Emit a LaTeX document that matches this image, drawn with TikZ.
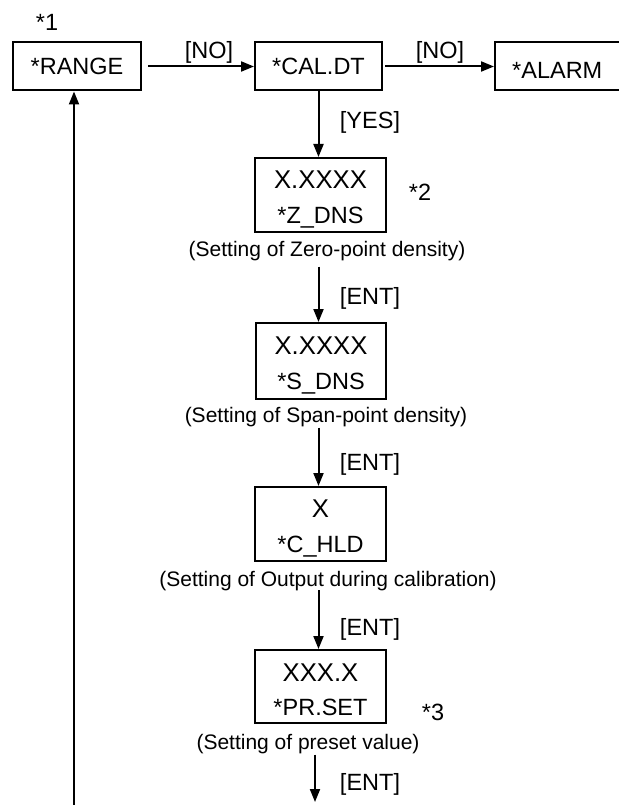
\documentclass[tikz,border=0pt]{standalone}
\usepackage{fontspec}
\setmainfont{Liberation Sans}
\usetikzlibrary{arrows.meta}

\tikzset{
    menu/.style={draw, line width=2pt, inner sep=0pt, minimum width=128pt, minimum height=48pt,
        font=\fontsize{23.5}{28}\selectfont, text height=16.8pt, text depth=0pt},
    setbox/.style={draw, line width=2pt, inner sep=0pt, minimum width=131pt, minimum height=74pt},
    valtxt/.style={inner sep=0pt, font=\fontsize{25.7}{30}\selectfont, text height=18.4pt, text depth=0pt},
    keytxt/.style={inner sep=0pt, font=\fontsize{23.5}{28}\selectfont, text height=16.8pt, text depth=0pt},
    note/.style={inner sep=0pt, font=\fontsize{21}{25}\selectfont, text height=15pt, text depth=0pt},
    flow/.style={line width=2pt, -{Triangle[length=13pt, width=10pt]}}
}

\begin{document}
\begin{tikzpicture}[x=1pt, y=-1pt]
    \useasboundingbox (0,0) rectangle (618,805);

    % Top row
    \node[menu] (range) at (77,66.5) {*RANGE};
    \node[menu, minimum width=127pt] (caldt) at (318.5,66.5) {*CAL.DT};
    \node[menu, minimum width=144pt] (alarm) at (567,66.5) {};
    \node[keytxt, anchor=west] (alarmtxt) at (512,70) {*ALARM};
    \node[keytxt] (n1) at (47,22) {*1};

    \draw[flow] ([xshift=6pt]range.east) -- (caldt.west);
    \node[keytxt] (no1) at (209,50) {[NO]};
    \draw[flow] ([xshift=2pt]caldt.east) -- (alarm.west);
    \node[keytxt] (no2) at (440,50) {[NO]};

    % Zero-point density
    \node[setbox] (zdns) at (320.5,195) {};
    \node[valtxt] (zval) at (320.5,179) {X.XXXX};
    \node[keytxt] (zkey) at (320.5,215) {*Z\_DNS};
    \node[keytxt] (n2) at (420,192) {*2};
    \node[note] (zcap) at (327,249) {(Setting of Zero-point density)};
    \draw[flow] (caldt.south) -- (caldt.south |- zdns.north);
    \node[keytxt] (yes) at (370,120) {[YES]};

    % Span-point density
    \node[setbox, minimum width=130pt, minimum height=76pt] (sdns) at (321,361) {};
    \node[valtxt] (sval) at (321,345) {X.XXXX};
    \node[keytxt] (skey) at (321,381) {*S\_DNS};
    \node[note] (scap) at (326,415) {(Setting of Span-point density)};
    \draw[flow] ([yshift=-10pt]zcap.south -| caldt.south) -- (caldt.south |- sdns.north);
    \node[keytxt] (ent1) at (370,296) {[ENT]};

    % Output during calibration
    \node[setbox] (chld) at (320.5,524) {};
    \node[valtxt] (cval) at (320.5,508.5) {X};
    \node[keytxt] (ckey) at (320.5,544) {*C\_HLD};
    \node[note] (ccap) at (328,578.5) {(Setting of Output during calibration)};
    \draw[flow] ([yshift=-5pt]scap.south -| caldt.south) -- (caldt.south |- chld.north);
    \node[keytxt] (ent2) at (370,462) {[ENT]};

    % Preset value
    \node[setbox, minimum height=73pt] (prset) at (320.5,686.5) {};
    \node[valtxt] (pval) at (320.5,672) {XXX.X};
    \node[keytxt] (pkey) at (320.5,707) {*PR.SET};
    \node[keytxt] (n3) at (433,712) {*3};
    \node[note] (pcap) at (308,742) {(Setting of preset value)};
    \draw[flow] ([yshift=-4pt]ccap.south -| caldt.south) -- (caldt.south |- prset.north);
    \node[keytxt] (ent3) at (370,627) {[ENT]};

    % Exit and return
    \coordinate (outlet) at (315,802);
    \draw[flow] ([yshift=-5pt]pcap.south -| outlet) -- (outlet);
    \node[keytxt] (ent4) at (370,782) {[ENT]};

    \coordinate (back) at (74,806);
    \draw[flow] (back) -- (back |- range.south);
\end{tikzpicture}
\end{document}
